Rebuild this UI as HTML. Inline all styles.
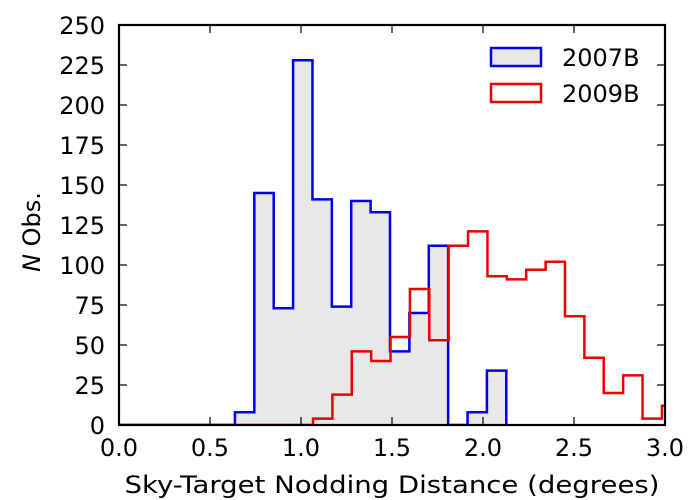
<!DOCTYPE html>
<html><head><meta charset="utf-8"><style>
html,body{margin:0;padding:0;background:#fff;}
svg{display:block;font-family:"DejaVu Sans","Liberation Sans",sans-serif;}
</style></head><body>
<svg id="chart" width="700" height="500"></svg>
<script>
const blueStart = 0.637;
const redStart = 1.066;
const binWidth = 0.1065;
const blueCounts = [8,145,73,228,141,74,140,133,46,70,112,0,8,34];
const redCounts = [4,19,46,40,55,85,53,112,121,93,91,97,102,68,42,20,31,4,12];
const xTicks = ["0.0","0.5","1.0","1.5","2.0","2.5","3.0"];
const xTickVals = [0,0.5,1,1.5,2,2.5,3];
const yTickVals = [0,25,50,75,100,125,150,175,200,225,250];

const L=119,R=665,T=25,B=425;
const sx=v=>L+(v/3)*(R-L);
const sy=v=>B-(v/250)*(B-T);
const svg=document.getElementById('chart');
const NS='http://www.w3.org/2000/svg';
function mk(tag,attrs,parent){const e=document.createElementNS(NS,tag);for(const k in attrs)e.setAttribute(k,attrs[k]);(parent||svg).appendChild(e);return e;}

const defs=mk('defs',{});
const cp=mk('clipPath',{id:'clip'},defs);
mk('rect',{x:L,y:T,width:R-L,height:B-T},cp);
const g=mk('g',{'clip-path':'url(#clip)'});

function stepPath(start,counts,fromZero){
  let d=`M${sx(fromZero?0:start)},${sy(0)} L${sx(start)},${sy(0)}`;
  counts.forEach((c,i)=>{const x0=sx(start+i*binWidth),x1=sx(start+(i+1)*binWidth);d+=` L${x0},${sy(c)} L${x1},${sy(c)}`;});
  d+=` L${sx(start+counts.length*binWidth)},${sy(0)}`;
  return d;
}
let p=mk('path',{d:stepPath(blueStart,blueCounts,false)+' Z',fill:'#e8e8e8',stroke:'none'},g);


p=mk('path',{d:stepPath(blueStart,blueCounts,true),fill:'none',stroke:'#0000ee','stroke-width':2.5},g);


p=mk('path',{d:stepPath(redStart,redCounts,true),fill:'none',stroke:'#ee0000','stroke-width':2.5},g);



const fr=mk('rect',{x:L,y:T,width:R-L,height:B-T,fill:'none',stroke:'#000','stroke-width':2.2});



xTickVals.forEach((v,i)=>{
  mk('line',{x1:sx(v),x2:sx(v),y1:B,y2:B-8,stroke:'#000','stroke-width':1.2});
  mk('line',{x1:sx(v),x2:sx(v),y1:T,y2:T+8,stroke:'#000','stroke-width':1.2});
  const t=mk('text',{x:sx(v),y:456,'text-anchor':'middle','font-size':24});
  t.textContent=xTicks[i];
  
  
});
yTickVals.forEach(v=>{
  mk('line',{x1:L,x2:L+8,y1:sy(v),y2:sy(v),stroke:'#000','stroke-width':1.2});
  mk('line',{x1:R,x2:R-8,y1:sy(v),y2:sy(v),stroke:'#000','stroke-width':1.2});
  const t=mk('text',{x:105,y:sy(v)+9,'text-anchor':'end','font-size':24});
  t.textContent=String(v);
  
  
});
</script>
<div style="position:absolute;left:0;top:0;width:700px;height:500px;pointer-events:none">
<svg width="700" height="500" style="font-family:'DejaVu Sans','Liberation Sans',sans-serif">
<text x="392" y="493" text-anchor="middle" font-size="24" textLength="535" lengthAdjust="spacingAndGlyphs">Sky-Target Nodding Distance (degrees)</text>
<text transform="translate(40,232) rotate(-90)" text-anchor="middle" font-size="24"><tspan font-style="italic">N</tspan> Obs.</text>
<g>
<rect x="491" y="48" width="50" height="18" fill="#e8e8e8" stroke="#0000ee" stroke-width="2.5"/>
<text x="562" y="66" font-size="24">2007B</text>
<rect x="491" y="84" width="50" height="18" fill="#fff" stroke="#ee0000" stroke-width="2.5"/>
<text x="562" y="102" font-size="24">2009B</text>
</g>
</svg></div>
</body></html>
